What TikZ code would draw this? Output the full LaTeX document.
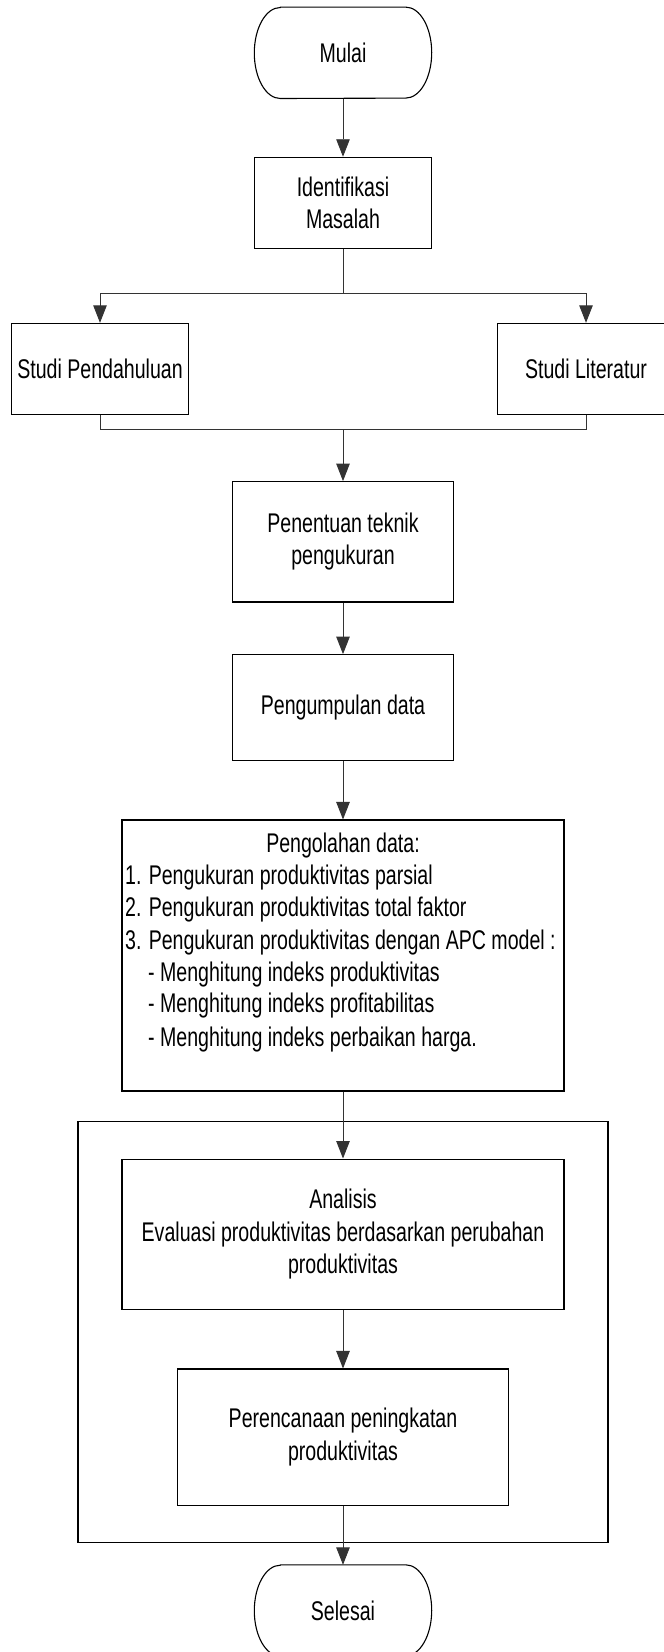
\documentclass[tikz,border=0pt]{standalone}
\usepackage{fontspec}
\setmainfont{Liberation Sans}[FakeStretch=0.725]
\usetikzlibrary{arrows.meta}

\begin{document}
\begin{tikzpicture}[x=1pt,y=1pt,
  txt/.style={font=\fontsize{27}{32.3}\selectfont},
  boxline/.style={draw=black, line width=1.1pt},
  proc/.style={boxline, txt, rectangle, inner sep=0pt, align=center},
  termnode/.style={txt, inner sep=0pt, minimum width=177pt, minimum height=91pt},
  conn/.style={draw=black!80, line width=0.9pt},
  arrow/.style={conn, -{Triangle[length=17.5pt,width=13.5pt]}},
  item/.style={txt, inner sep=0pt, text height=19.3pt, text depth=0pt, anchor=west},
]
\useasboundingbox (0,0) rectangle (664,-1652);
\fill[white] (0,0) rectangle (664,-1652);
\clip (0,0) rectangle (664,-1652);

% frame around the analysis stage
\node[boxline, inner sep=0pt, minimum width=530pt, minimum height=421pt] (grp) at (343,-1332.2) {};

% start / end terminators
\node[termnode] (mulai) at (343,-52.8) {Mulai};
\node[termnode] (selesai) at (343,-1610.5) {Selesai};
\foreach \t in {mulai,selesai}{
  \draw[boxline] ([xshift=26pt]\t.north west) -- ([xshift=-26pt]\t.north east)
    arc[start angle=90,end angle=-90,x radius=26pt,y radius=45.5pt]
    -- ([xshift=26pt]\t.south west)
    arc[start angle=270,end angle=90,x radius=26pt,y radius=45.5pt] -- cycle;
}

% process steps
\node[proc, minimum width=177pt, minimum height=91pt] (ident) at (343,-202.8) {Identifikasi\\Masalah};
\node[proc, minimum width=176.6pt, minimum height=90.7pt] (studip) at (100,-368.7) {Studi Pendahuluan};
\node[proc, minimum width=176.6pt, minimum height=90.7pt] (studil) at (586,-368.7) {Studi Literatur};
\node[proc, minimum width=220.6pt, minimum height=120.3pt] (tekn) at (343,-541.8) {Penentuan teknik\\pengukuran};
\node[proc, minimum width=220.6pt, minimum height=105.5pt] (kumpul) at (343,-707.4) {Pengumpulan data};
\node[boxline, inner sep=0pt, minimum width=442pt, minimum height=271pt] (olah) at (343,-955.5) {};
\node[proc, minimum width=442pt, minimum height=150.3pt] (anal) at (343,-1234.2)
  {Analisis\\Evaluasi produktivitas berdasarkan perubahan\\produktivitas};
\node[proc, minimum width=331.5pt, minimum height=136.2pt] (renc) at (343,-1437.1)
  {Perencanaan peningkatan\\produktivitas};

% contents of the data processing step
\node[txt, inner sep=0pt, text height=19.3pt, text depth=0pt] (olaht) at (343,-843.3) {Pengolahan data:};
\node[item] (o1) at (125,-875) {1. Pengukuran produktivitas parsial};
\node[item] (o2) at (125,-906.7) {2. Pengukuran produktivitas total faktor};
\node[item] (o3) at (125,-940) {3. Pengukuran produktivitas dengan APC model :};
\node[item] (o4) at (148,-971.7) {- Menghitung indeks produktivitas};
\node[item] (o5) at (148,-1003.3) {- Menghitung indeks profitabilitas};
\node[item] (o6) at (148,-1036.7) {- Menghitung indeks perbaikan harga.};

% connectors
\coordinate (split) at (343,-293.3);
\coordinate (join) at (343,-429);
\draw[arrow] (mulai.south) -- (ident.north);
\draw[conn] (ident.south) -- (split);
\draw[arrow] (split) -| (studip.north);
\draw[arrow] (split) -| (studil.north);
\draw[conn] (studip.south) |- (join);
\draw[conn] (studil.south) |- (join);
\draw[arrow] (join) -- (tekn.north);
\draw[arrow] (tekn.south) -- (kumpul.north);
\draw[arrow] (kumpul.south) -- (olah.north);
\draw[arrow] (olah.south) -- (anal.north);
\draw[arrow] (anal.south) -- (renc.north);
\draw[arrow] (renc.south) -- (selesai.north);
\end{tikzpicture}
\end{document}
